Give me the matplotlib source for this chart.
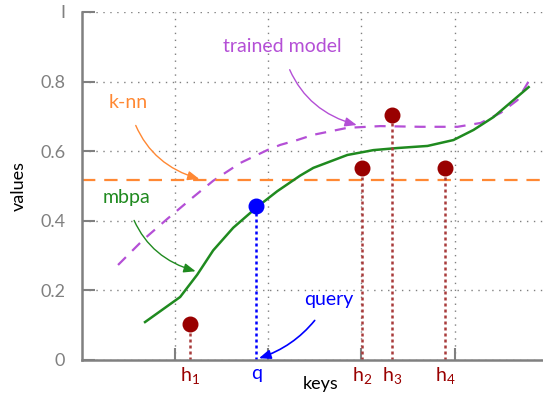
import numpy as np
import matplotlib
matplotlib.use('Agg')
import matplotlib.pyplot as plt

plt.rcParams['font.family'] = ['Lato', 'DejaVu Sans']
plt.rcParams['mathtext.fontset'] = 'custom'
plt.rcParams['mathtext.rm'] = 'Lato'
plt.rcParams['mathtext.it'] = 'Lato'

# mbpa curve (green)
mbpa_x = [0.677, 1.054, 1.237, 1.409, 1.624, 1.882, 2.097, 2.344, 2.484, 2.849,
          3.129, 3.387, 3.710, 3.989, 4.204, 4.419, 4.634, 4.796]
mbpa_y = [0.109, 0.181, 0.245, 0.315, 0.380, 0.440, 0.485, 0.530, 0.552, 0.589,
          0.603, 0.609, 0.615, 0.632, 0.661, 0.698, 0.747, 0.784]

# trained model (purple dashed)
model_x = [0.387, 0.656, 0.914, 1.194, 1.409, 1.699, 1.989, 2.129, 2.312, 2.484,
           2.849, 3.204, 3.634, 4.032, 4.280, 4.495, 4.677, 4.817]
model_y = [0.273, 0.345, 0.405, 0.468, 0.515, 0.566, 0.603, 0.618, 0.632, 0.647,
           0.667, 0.672, 0.670, 0.670, 0.681, 0.710, 0.747, 0.810]

knn_y = 0.517

query_x, query_y = 1.87, 0.443
mem_x = [1.16, 3.01, 3.33, 3.90]
mem_y = [0.103, 0.552, 0.704, 0.552]
mem_labels = ['h$_1$', 'h$_2$', 'h$_3$', 'h$_4$']

green = '#1f8a1f'
purple = '#b44fd6'
orange = '#ff8833'
darkred = '#990000'
dropred = '#a83a3a'
grey = '#808080'

fig = plt.figure(figsize=(5.43, 3.98), dpi=100)
ax = fig.add_axes([0.151, 0.0955, 0.849, 0.8745])
ax.set_xlim(0, 4.95)
ax.set_ylim(0, 1)

ax.set_xticks([1, 2, 3, 4])
ax.set_xticklabels([])
ax.set_yticks([0, 0.2, 0.4, 0.6, 0.8, 1])
ax.set_yticklabels(['0', '0.2', '0.4', '0.6', '0.8', 'I'], fontsize=13, color=grey)
ax.tick_params(direction='in', length=9, width=1.5, color=grey, pad=12)
ax.grid(True, linestyle=(0, (1, 4)), color=grey, linewidth=1)
for s in ['top', 'right']:
    ax.spines[s].set_visible(False)
for s in ['left', 'bottom']:
    ax.spines[s].set_color(grey)
    ax.spines[s].set_linewidth(1.8)

ax.plot(model_x, model_y, '--', color=purple, lw=1.6, dashes=(5, 4))
ax.axhline(knn_y, color=orange, lw=1.6, ls='--', dashes=(6, 4))
ax.plot(mbpa_x, mbpa_y, '-', color=green, lw=1.8, solid_joinstyle='round')

# memory points and drop lines
for x, y, lab in zip(mem_x, mem_y, mem_labels):
    ax.plot([x, x], [0, y], color=dropred, lw=1.8, dashes=(1.2, 1.2))
    ax.text(x, -0.015, lab, color=darkred, fontsize=14, ha='center', va='top')
ax.scatter(mem_x, mem_y, s=110, color=darkred, zorder=5)

ax.plot([query_x, query_x], [0, query_y], color='blue', lw=1.8, dashes=(1.2, 1.2))
ax.scatter([query_x], [query_y], s=110, color='blue', zorder=5)
ax.text(query_x, -0.015, 'q', color='blue', fontsize=14, ha='center', va='top')

ax.text(2.56, -0.045, 'keys', fontsize=13, ha='center', va='top')
ax.set_ylabel('values', fontsize=13, labelpad=10)

# annotations
ax.annotate('trained model', xy=(2.95, 0.675), xytext=(2.15, 0.90),
            color=purple, fontsize=14, ha='center', va='center',
            arrowprops=dict(arrowstyle='-|>,head_length=0.5,head_width=0.2', color=purple, lw=1,
                            connectionstyle='arc3,rad=0.3', shrinkA=9, shrinkB=0))
ax.annotate('k-nn', xy=(1.26, 0.52), xytext=(0.5, 0.74),
            color=orange, fontsize=14, ha='center', va='center',
            arrowprops=dict(arrowstyle='-|>,head_length=0.5,head_width=0.2', color=orange, lw=1,
                            connectionstyle='arc3,rad=0.3', shrinkA=9, shrinkB=0))
ax.annotate('mbpa', xy=(1.22, 0.255), xytext=(0.48, 0.467),
            color=green, fontsize=14, ha='center', va='center',
            arrowprops=dict(arrowstyle='-|>,head_length=0.5,head_width=0.2', color=green, lw=1,
                            connectionstyle='arc3,rad=0.3', shrinkA=9, shrinkB=0))
ax.annotate('query', xy=(1.9, 0.005), xytext=(2.65, 0.175),
            color='blue', fontsize=14, ha='center', va='center',
            arrowprops=dict(arrowstyle='-|>,head_length=0.5,head_width=0.2', color='blue', lw=1.2,
                            connectionstyle='arc3,rad=-0.2', shrinkA=9, shrinkB=0))

fig.savefig('out.png', dpi=100)
